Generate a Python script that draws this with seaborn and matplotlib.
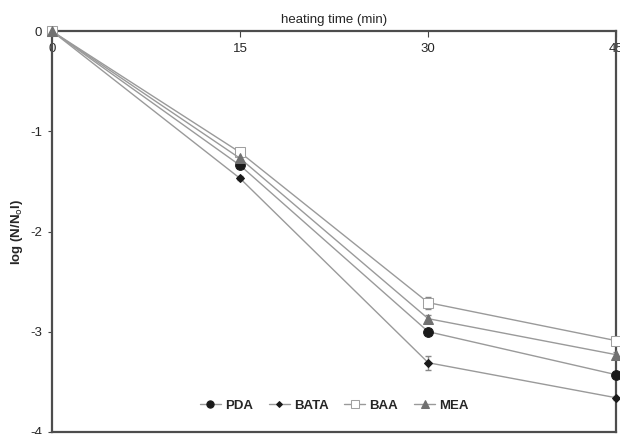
import pandas as pd
import numpy as np
import seaborn as sns
import matplotlib.pyplot as plt

# data
time = [0, 15, 30, 45]
pda = [0, -1.34, -3.00, -3.43]
bata = [0, -1.47, -3.31, -3.66]
baa = [0, -1.21, -2.71, -3.09]
mea = [0, -1.27, -2.87, -3.23]
pda_err = [0, 0.03, 0.03, 0.03]
bata_err = [0, 0.02, 0.07, 0.02]
baa_err = [0, 0.04, 0.06, 0.04]
mea_err = [0, 0.03, 0.04, 0.03]

sns.set_style('white')
plt.rcParams['font.family'] = ['Liberation Sans', 'DejaVu Sans']
plt.rcParams['axes.unicode_minus'] = False

fig = plt.figure(figsize=(6.2, 4.34), dpi=100)
ax = fig.add_axes([0.084, 0.005, 0.910, 0.923])

line_c = '#9a9a9a'
styles = {
    'PDA': (pda, pda_err, dict(marker='o', markersize=7, markerfacecolor='#1a1a1a', markeredgecolor='#1a1a1a')),
    'BATA': (bata, bata_err, dict(marker='D', markersize=4, markerfacecolor='#1a1a1a', markeredgecolor='#1a1a1a')),
    'BAA': (baa, baa_err, dict(marker='s', markersize=7, markerfacecolor='white', markeredgecolor='#a0a0a0')),
    'MEA': (mea, mea_err, dict(marker='^', markersize=7, markerfacecolor='#707070', markeredgecolor='#707070')),
}

for name, (vals, err, mk) in styles.items():
    df = pd.DataFrame({'time': time, 'val': vals})
    ax.errorbar(time, vals, yerr=err, fmt='none', ecolor='#888888', elinewidth=1, capsize=2, zorder=2)
    sns.lineplot(data=df, x='time', y='val', ax=ax, color=line_c, linewidth=1,
                 label=name, clip_on=False, zorder=3, **mk)

ax.set_xlim(0, 45)
ax.set_ylim(-4, 0)
ax.set_xticks([0, 15, 30, 45])
ax.set_yticks([0, -1, -2, -3, -4])
ax.xaxis.tick_top()
ax.xaxis.set_label_position('top')
ax.tick_params(axis='x', direction='in', length=4, pad=-17, labelsize=9.5, color='#444444')
ax.tick_params(axis='y', direction='out', length=3, pad=4, labelsize=9.5, color='#444444', left=True)
ax.set_xlabel('heating time (min)', fontsize=9.5, labelpad=6)
ax.set_ylabel('log (N/N$_\\mathrm{o}$l)', fontsize=9.5, fontweight='bold', labelpad=4)

for s in ax.spines.values():
    s.set_color('#4d4d4d')
    s.set_linewidth(1.6)

ax.legend(loc='lower center', bbox_to_anchor=(0.5, 0.02), ncol=4, frameon=False,
          handlelength=1.6, handletextpad=0.3, columnspacing=1.2, markerscale=0.75,
          prop={'size': 9.5, 'weight': 'bold'})

fig.savefig('out.png', dpi=100)
